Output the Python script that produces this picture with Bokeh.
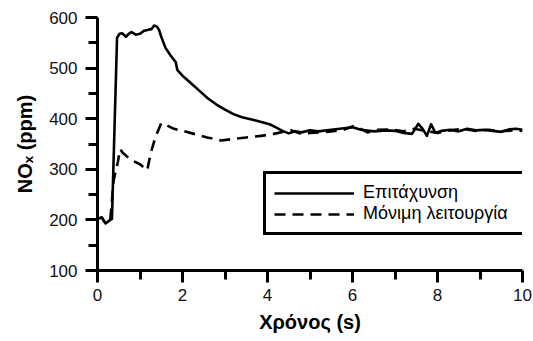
from bokeh.plotting import figure
from bokeh.models import (ColumnDataSource, FixedTicker, Legend, LegendItem,
                          Range1d)
from bokeh.embed import file_html
from bokeh.resources import INLINE

# NOx concentration during an acceleration vs. steady-state operation
t_acc = [0.0, 0.1, 0.19, 0.3, 0.34, 0.46, 0.52, 0.58, 0.67, 0.74, 0.8, 0.9,
         1.0, 1.1, 1.2, 1.27, 1.33, 1.4, 1.45, 1.5, 1.6, 1.72, 1.84, 1.88,
         2.0, 2.2, 2.4, 2.6, 2.8, 3.0, 3.2, 3.4, 3.7, 4.05, 4.2, 4.35, 4.5,
         4.65, 4.8, 5.0, 5.2, 5.5, 5.8, 6.0, 6.2, 6.5, 6.8, 7.0, 7.2, 7.4,
         7.55, 7.65, 7.75, 7.85, 7.95, 8.1, 8.3, 8.5, 8.7, 8.9, 9.1, 9.3,
         9.5, 9.7, 9.85, 10.0]
nox_acc = [202, 205, 193, 200, 202, 560, 568, 569, 562, 568, 571, 566,
           568, 574, 576, 577, 584, 582, 575, 562, 540, 525, 512, 496,
           485, 470, 455, 440, 428, 418, 409, 403, 397, 389, 383, 376, 371,
           375, 373, 377, 375, 378, 381, 383, 378, 375, 377, 376, 372, 370,
           390, 380, 366, 389, 372, 376, 378, 375, 380, 377, 378, 376,
           374, 379, 380, 378]

t_ss = [0.0, 0.1, 0.19, 0.3, 0.38, 0.48, 0.53, 0.6, 0.8, 1.0, 1.17, 1.25,
        1.36, 1.5, 1.6, 1.8, 2.0, 2.27, 2.58, 2.9, 3.2, 3.5, 3.85, 4.15,
        4.55, 4.8, 5.0, 5.25, 5.5, 5.75, 6.05, 6.35, 6.6, 6.9, 7.2, 7.45,
        7.7, 8.0, 8.3, 8.6, 8.9, 9.2, 9.5, 9.8, 10.0]
nox_ss = [202, 205, 193, 200, 278, 315, 340, 332, 318, 310, 298, 331,
          363, 391, 388, 380, 376, 370, 363, 357, 360, 363, 366, 370,
          377, 370, 372, 373, 375, 377, 386, 373, 378, 379, 375, 380,
          376, 372, 377, 380, 376, 378, 375, 377, 376]

series_labels = ["Επιτάχυνση", "Μόνιμη λειτουργία"]
x_ticks = [0, 2, 4, 6, 8, 10]
x_minor = [1, 3, 5, 7, 9]
y_ticks = [100, 200, 300, 400, 500, 600]
y_minor = [150, 250, 350, 450, 550]

FONT = "Liberation Sans"

p = figure(width=533, height=341, output_backend="svg", toolbar_location=None,
           x_range=Range1d(0, 10), y_range=Range1d(100, 600),
           min_border_left=97, min_border_right=11, min_border_top=17,
           min_border_bottom=71)
p.outline_line_color = None
p.grid.visible = False
p.background_fill_color = "white"
p.border_fill_color = "white"

src_acc = ColumnDataSource(dict(t=t_acc, nox=nox_acc))
src_ss = ColumnDataSource(dict(t=t_ss, nox=nox_ss))

r_ss = p.line("t", "nox", source=src_ss, line_color="black", line_width=2.6,
              line_dash="11 7", line_join="round")
r_acc = p.line("t", "nox", source=src_acc, line_color="black",
               line_width=2.6, line_join="round")

for ax, ticks, minor in ((p.xaxis[0], x_ticks, x_minor),
                         (p.yaxis[0], y_ticks, y_minor)):
    ax.ticker = FixedTicker(ticks=ticks, minor_ticks=minor)
    ax.axis_line_width = 3
    ax.axis_line_color = "black"
    ax.major_tick_line_width = 3
    ax.minor_tick_line_width = 3
    ax.major_tick_line_color = "black"
    ax.minor_tick_line_color = "black"
    ax.major_tick_in = 0
    ax.major_tick_out = 12
    ax.minor_tick_in = 0
    ax.minor_tick_out = 9
    ax.major_label_text_font = FONT
    ax.major_label_text_font_size = "17px"
    ax.major_label_text_color = "#111111"
    ax.axis_label_text_font = FONT
    ax.axis_label_text_font_style = "bold"
    ax.axis_label_text_font_size = "20px"
    ax.axis_label_text_color = "black"

p.xaxis.major_label_standoff = 6
p.yaxis.major_label_standoff = 8

p.xaxis.axis_label = "Χρόνος (s)"
p.xaxis.axis_label_standoff = 7
p.yaxis.axis_label = "NOₓ (ppm)"
p.yaxis.axis_label_standoff = 10

legend = Legend(items=[LegendItem(label=series_labels[0], renderers=[r_acc]),
                       LegendItem(label=series_labels[1], renderers=[r_ss])],
                location=(166, 35), padding=8, spacing=0, margin=0,
                glyph_width=80, glyph_height=20, label_height=20,
                label_width=151, label_standoff=9,
                label_text_font=FONT, label_text_font_size="18px",
                label_text_color="black",
                border_line_color="black", border_line_width=3,
                border_line_alpha=1.0,
                background_fill_color="white", background_fill_alpha=1.0)
p.add_layout(legend)

open("out.html", "w").write(file_html(p, INLINE))
